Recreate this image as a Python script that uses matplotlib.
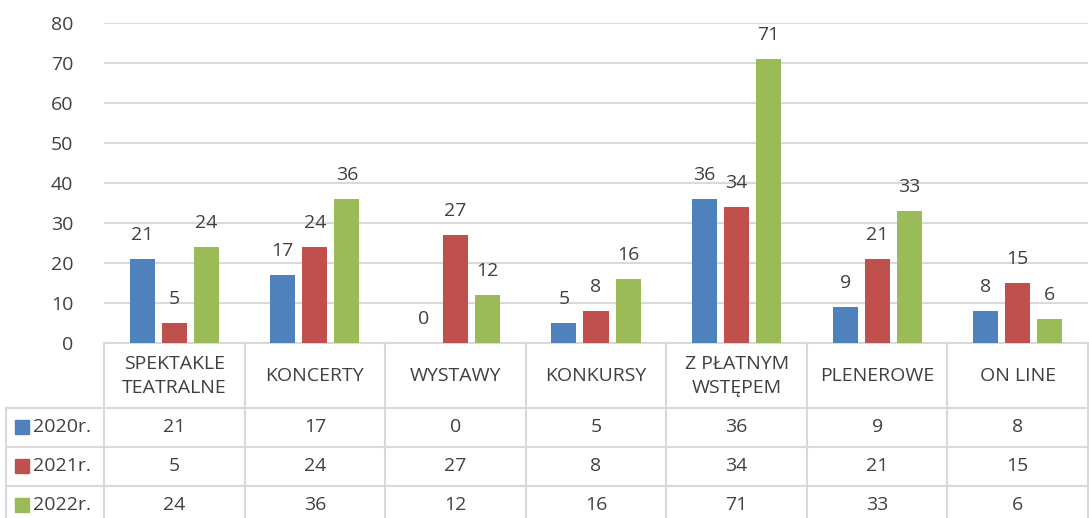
import matplotlib.pyplot as plt
import matplotlib.transforms as mtransforms
import numpy as np

categories = ['SPEKTAKLE\nTEATRALNE', 'KONCERTY', 'WYSTAWY', 'KONKURSY',
              'Z PŁATNYM\nWSTĘPEM', 'PLENEROWE', 'ON LINE']
series = ['2020r.', '2021r.', '2022r.']
v2020 = [21, 17, 0, 5, 36, 9, 8]
v2021 = [5, 24, 27, 8, 34, 21, 15]
v2022 = [24, 36, 12, 16, 71, 33, 6]
colors = ['#4f81bd', '#c0504d', '#9bbb59']

W, H = 1089, 518
txt = '#404040'
grid = '#d9d9d9'
fs = 14

plt.rcParams['font.family'] = ['Open Sans', 'DejaVu Sans']

fig = plt.figure(figsize=(W / 100, H / 100), dpi=100)
# plot area in pixels: x 104..1088, y 23..343
ax = fig.add_axes([104 / W, 1 - 343 / H, (1088 - 104) / W, (343 - 23) / H])

x = np.arange(len(categories))
off = 0.228
bw = 0.178
for i, (vals, c) in enumerate(zip([v2020, v2021, v2022], colors)):
    pos = x + (i - 1) * off
    ax.bar(pos, vals, width=bw, color=c, zorder=3)
    for p, v in zip(pos, vals):
        ax.annotate(str(v), (p, v), xytext=(0, 11), textcoords='offset points',
                    ha='center', va='bottom', fontsize=fs, color=txt)

ax.set_xlim(-0.5, len(categories) - 0.5)
ax.set_ylim(0, 80)
ax.set_yticks(range(0, 81, 10))
ax.yaxis.grid(True, color=grid, linewidth=1.5, zorder=0)
ax.tick_params(axis='y', length=0, labelsize=fs, labelcolor=txt, pad=22)
ax.set_xticks([])
for s in ['top', 'right', 'left']:
    ax.spines[s].set_visible(False)
ax.spines['bottom'].set_color(grid)
ax.spines['bottom'].set_linewidth(1.5)

# data table below the axes: x in data units, y in figure fraction
tr = mtransforms.blended_transform_factory(ax.transData, fig.transFigure)
ftr = fig.transFigure

def fy(py):
    return 1 - py / H

line_kw = dict(color=grid, linewidth=1.5, clip_on=False)
# vertical lines
for k in range(len(categories) + 1):
    ax.plot([k - 0.5, k - 0.5], [fy(343), fy(H + 5)], transform=tr, **line_kw)
ax.plot([6 / W, 6 / W], [fy(408), fy(H + 5)], transform=ftr, **line_kw)
# horizontal lines
for py in [408, 447, 486]:
    ax.plot([6 / W, 1088 / W], [fy(py), fy(py)], transform=ftr, **line_kw)

# header row
for k, cat in enumerate(categories):
    ax.text(k, fy(376), cat, transform=tr, ha='center', va='center',
            fontsize=fs, color=txt, linespacing=1.4)

# data rows
row_y = [427, 466, 505]
for vals, name, c, ry in zip([v2020, v2021, v2022], series, colors, row_y):
    fig.patches.append(plt.Rectangle((15 / W, fy(ry + 7)), 14 / W, 14 / H,
                                     transform=ftr, color=c))
    fig.text(33 / W, fy(ry), name, ha='left', va='center', fontsize=fs, color=txt)
    for k, v in enumerate(vals):
        ax.text(k, fy(ry), str(v), transform=tr, ha='center', va='center',
                fontsize=fs, color=txt)

fig.savefig('out.png', dpi=100)
